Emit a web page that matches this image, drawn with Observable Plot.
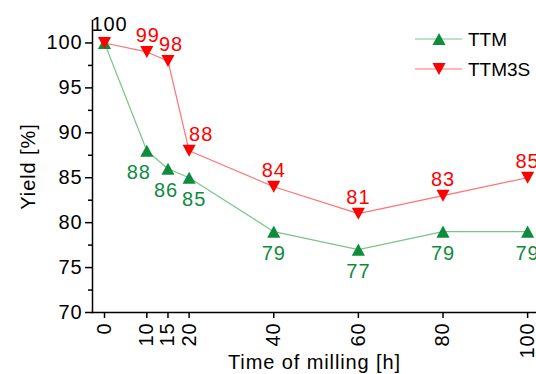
<!DOCTYPE html>
<html>
<head>
<meta charset="utf-8">
<script src="https://cdn.jsdelivr.net/npm/d3@7"></script>
<script src="https://cdn.jsdelivr.net/npm/@observablehq/plot@0.6"></script>
<style>
  html, body { margin: 0; padding: 0; background: #fff; }
  #chart { position: relative; width: 536px; height: 374px; }
  #chart svg text { letter-spacing: 0.9px; }
  #chart svg g.legend text { letter-spacing: 0; }
</style>
</head>
<body>
<div id="chart"></div>
<script>
// Milling time (h) and yield (%) for the two samples
const times = [0, 10, 15, 20, 40, 60, 80, 100];
const ttm = [100, 88, 86, 85, 79, 77, 79, 79];
const ttm3s = [100, 99, 98, 88, 84, 81, 83, 85];
const seriesNames = ["TTM", "TTM3S"];
const xTicks = [0, 10, 15, 20, 40, 60, 80, 100];
const yTicks = [70, 75, 80, 85, 90, 95, 100];
const yMinorTicks = [72.5, 77.5, 82.5, 87.5, 92.5, 97.5];

const green = "#0d8c3c";
const greenLine = "#7cc48c";
const red = "#ff0000";
const redLine = "#ff7373";

const rowsTTM = times.map((t, i) => ({time: t, value: ttm[i]}));
const rowsTTM3S = times.map((t, i) => ({time: t, value: ttm3s[i]}));

// Triangles centred on their bounding box
const triUp = {
  draw(ctx, size) {
    const s = Math.sqrt(size), w = 0.74 * s, h = 0.68 * s;
    ctx.moveTo(0, -h); ctx.lineTo(w, h); ctx.lineTo(-w, h); ctx.closePath();
  }
};
const triDown = {
  draw(ctx, size) {
    const s = Math.sqrt(size), w = 0.74 * s, h = 0.68 * s;
    ctx.moveTo(0, h); ctx.lineTo(w, -h); ctx.lineTo(-w, -h); ctx.closePath();
  }
};

// Per-point label nudges where the early points crowd together
const greenDx = {10: -8, 15: -2, 20: 5};
const redDx = {0: 5, 10: 1, 15: 3, 20: 12};

const greenLabels = rowsTTM
  .filter(d => d.time !== 0)
  .map(d => Plot.text([d], {
    x: "time", y: "value", text: d => String(d.value),
    dx: greenDx[d.time] ?? 0, dy: 22, fill: green, fontSize: 20
  }));
const redLabels = rowsTTM3S.map(d => Plot.text([d], {
  x: "time", y: "value", text: d => String(d.value),
  dx: redDx[d.time] ?? 0, dy: d.time === 0 ? -18 : -16,
  fill: d.time === 0 ? "#000" : red, fontSize: 20
}));

const chart = Plot.plot({
  width: 536,
  height: 374,
  marginLeft: 92,
  marginRight: 0,
  marginTop: 20,
  marginBottom: 62,
  style: {fontFamily: "'Liberation Sans', Arial, sans-serif", fontSize: "20px", color: "#000", background: "#fff"},
  x: {domain: [-2.84, 102.1]},
  y: {domain: [70, 102.5]},
  marks: [
    Plot.axisX({ticks: xTicks, tickSize: 6, tickRotate: -90, tickPadding: 4, strokeWidth: 1.5,
      label: "Time of milling [h]", labelAnchor: "center", labelOffset: 56, labelArrow: "none"}),
    Plot.axisY({ticks: yTicks, tickSize: 7, tickPadding: 3, strokeWidth: 1.5,
      label: "Yield [%]", labelAnchor: "center", labelOffset: 72, labelArrow: "none"}),
    Plot.axisY({ticks: yMinorTicks, tickSize: 4, strokeWidth: 1.5, text: null, label: null}),
    Plot.frame({anchor: "left", strokeWidth: 1.5}),
    Plot.frame({anchor: "bottom", strokeWidth: 1.5}),
    Plot.line(rowsTTM, {x: "time", y: "value", stroke: greenLine, strokeWidth: 1.2}),
    Plot.dot(rowsTTM, {x: "time", y: "value", symbol: triUp, r: 5, fill: green, stroke: "none"}),
    Plot.line(rowsTTM3S, {x: "time", y: "value", stroke: redLine, strokeWidth: 1.2}),
    Plot.dot(rowsTTM3S, {x: "time", y: "value", symbol: triDown, r: 5, fill: red, stroke: "none"}),
    ...greenLabels,
    ...redLabels
  ]
});

// Legend drawn into the plot's top-right corner
const svg = d3.select(chart);
const legend = svg.append("g")
  .attr("class", "legend")
  .attr("font-family", "'Liberation Sans', Arial, sans-serif")
  .attr("font-size", 19)
  .attr("text-anchor", "start");
const legendItems = [
  {name: seriesNames[0], line: greenLine, fill: green, sym: d3.symbol(triUp, 78.5)()},
  {name: seriesNames[1], line: redLine, fill: red, sym: d3.symbol(triDown, 78.5)()}
];
legendItems.forEach((it, i) => {
  const g = legend.append("g").attr("transform", `translate(415,${39 + i * 30})`);
  g.append("line").attr("x1", 0).attr("x2", 47).attr("stroke", it.line).attr("stroke-width", 1.2);
  g.append("path").attr("d", it.sym).attr("transform", "translate(24,0)").attr("fill", it.fill);
  g.append("text").attr("x", 53).attr("dy", "0.36em").attr("fill", "#000").text(it.name);
});

document.getElementById("chart").appendChild(chart);
</script>
</body>
</html>
